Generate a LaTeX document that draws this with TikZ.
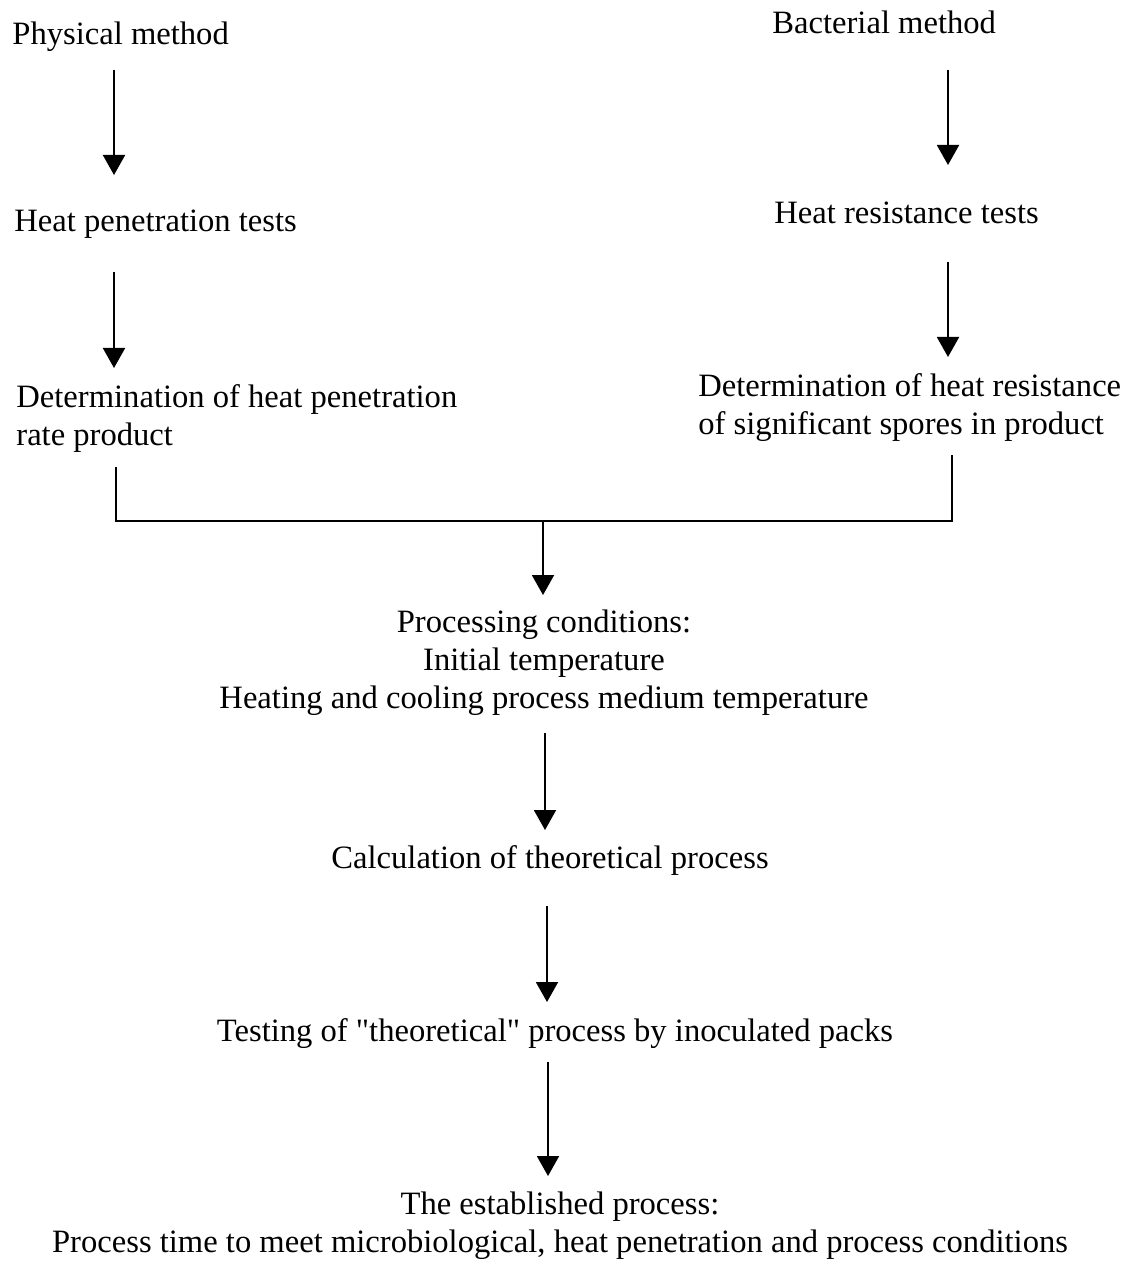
\documentclass[tikz,border=0pt]{standalone}
\usepackage{fontspec}
\newfontfamily\plainfont{Liberation Serif}
\usetikzlibrary{arrows.meta}

\begin{document}
\begin{tikzpicture}[x=0.5pt,y=-0.5pt,>={Triangle[width=11pt,length=10pt]},
  txt/.style={font=\plainfont\fontsize{16.3}{19}\selectfont,inner sep=0pt},
  arr/.style={->,line width=1pt}]
\useasboundingbox (0,0) rectangle (1124,1262);
% left column
\node[txt,anchor=base west] (phys) at (12,45) {Physical method};
\node[txt,anchor=base west] (hpt) at (14,232) {Heat penetration tests};
\node[txt,anchor=base west,align=left] (dhp) at (16,445) {Determination of heat penetration\\rate product};
% right column
\node[txt,anchor=base west] (bact) at (772,34) {Bacterial method};
\node[txt,anchor=base west] (hrt) at (774,224) {Heat resistance tests};
\node[txt,anchor=base west,align=left] (dhr) at (698,434) {Determination of heat resistance\\of significant spores in product};
% centre column
\node[txt,anchor=base,align=center] (pc) at (544,708) {Processing conditions:\\Initial temperature\\Heating and cooling process medium temperature};
\node[txt,anchor=base] (calc) at (550,868) {Calculation of theoretical process};
\node[txt,anchor=base] (test) at (555,1041) {Testing of "theoretical" process by inoculated packs};
\node[txt,anchor=base,align=center] (est) at (560,1252) {The established process:\\Process time to meet microbiological, heat penetration and process conditions};
% arrow ends
\coordinate (a1) at (114,70);  \coordinate (a1e) at (114,175);
\coordinate (a2) at (114,272); \coordinate (a2e) at (114,368);
\coordinate (b1) at (948,70);  \coordinate (b1e) at (948,165);
\coordinate (b2) at (948,262); \coordinate (b2e) at (948,357);
\coordinate (jl) at (116,467); \coordinate (jr) at (952,455);
\coordinate (jm) at (543,521); \coordinate (jme) at (543,595);
\coordinate (c1) at (545,733); \coordinate (c1e) at (545,830);
\coordinate (c2) at (547,906); \coordinate (c2e) at (547,1002);
\coordinate (c3) at (548,1062); \coordinate (c3e) at (548,1176);
% connectors
\draw[arr] (a1) -- (a1e);
\draw[arr] (a2) -- (a2e);
\draw[arr] (b1) -- (b1e);
\draw[arr] (b2) -- (b2e);
\draw[line width=1pt] (jl) |- (jm) -| (jr);
\draw[arr] (jm) -- (jme);
\draw[arr] (c1) -- (c1e);
\draw[arr] (c2) -- (c2e);
\draw[arr] (c3) -- (c3e);
\end{tikzpicture}
\end{document}
